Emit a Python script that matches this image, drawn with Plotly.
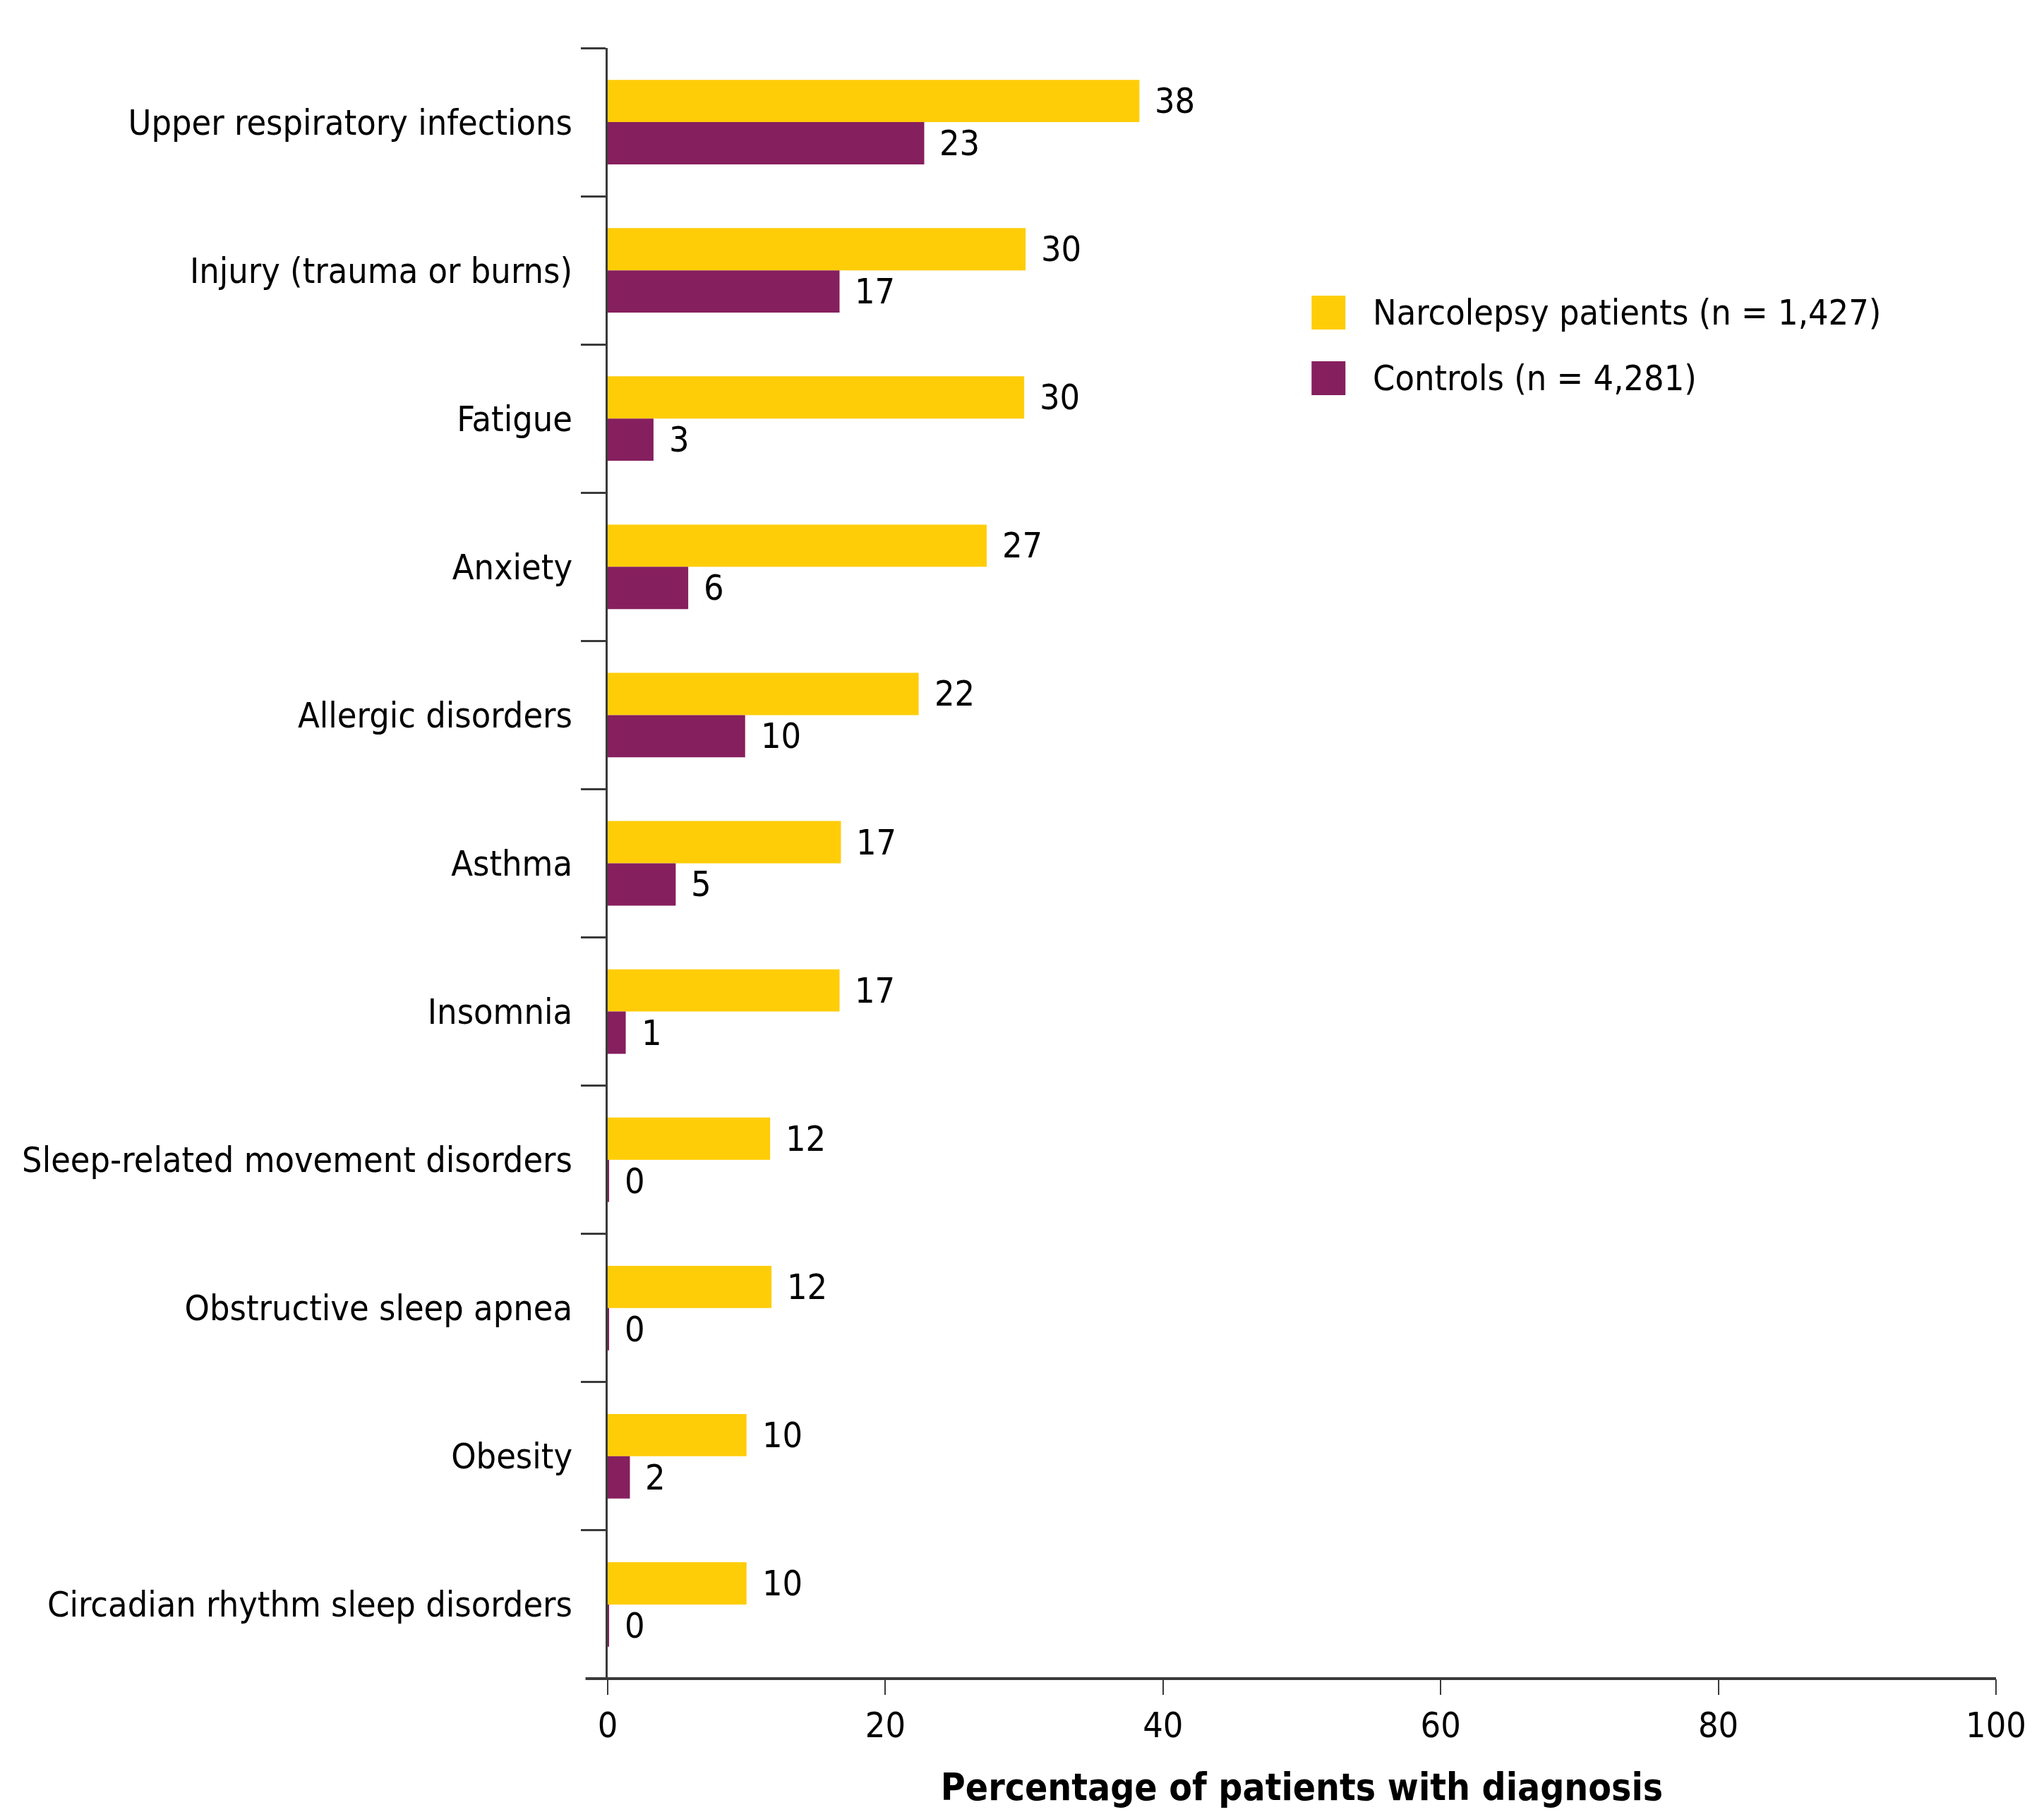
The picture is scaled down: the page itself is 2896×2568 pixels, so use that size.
import plotly.graph_objects as go

categories = [
    "Upper respiratory infections",
    "Injury (trauma or burns)",
    "Fatigue",
    "Anxiety",
    "Allergic disorders",
    "Asthma",
    "Insomnia",
    "Sleep-related movement disorders",
    "Obstructive sleep apnea",
    "Obesity",
    "Circadian rhythm sleep disorders",
]
narcolepsy = [38.3, 30.1, 30.0, 27.3, 22.4, 16.8, 16.7, 11.7, 11.8, 10.0, 10.0]
controls = [22.8, 16.7, 3.3, 5.8, 9.9, 4.9, 1.3, 0.1, 0.1, 1.6, 0.1]
series_names = ["Narcolepsy patients (n = 1,427)", "Controls (n = 4,281)"]
x_ticks = [0, 20, 40, 60, 80, 100]

YELLOW = "rgb(255,205,8)"
PURPLE = "rgb(134,31,94)"
AXIS = "#3a3a3a"
FONT = "DejaVu Sans Condensed, Liberation Sans Narrow, sans-serif"
FS = 50
BARGAP = 0.43

fig = go.Figure()
fig.add_trace(go.Bar(y=categories, x=narcolepsy, orientation="h", name=series_names[0],
                     marker=dict(color=YELLOW, line=dict(width=0)), showlegend=False))
fig.add_trace(go.Bar(y=categories, x=controls, orientation="h", name=series_names[1],
                     marker=dict(color=PURPLE, line=dict(width=0)), showlegend=False))

half = (1 - BARGAP) / 4.0
annotations = []
for i, (a, b) in enumerate(zip(narcolepsy, controls)):
    for val, off in ((a, -half), (b, half)):
        annotations.append(dict(x=val, y=i + off, xref="x", yref="y", text=f"{val:.0f}",
                                showarrow=False, xanchor="left", yanchor="middle", xshift=20,
                                font=dict(family=FONT, size=FS, color="black")))

# custom legend
leg = [(series_names[0], YELLOW, 0.8377), (series_names[1], PURPLE, 0.7975)]
shapes = []
for name, col, yc in leg:
    shapes.append(dict(type="rect", xref="paper", yref="paper", x0=0.507, x1=0.5314,
                       y0=yc - 0.0104, y1=yc + 0.0104, fillcolor=col, line=dict(width=0)))
    annotations.append(dict(x=0.550, y=yc, xref="paper", yref="paper", text=name, showarrow=False,
                            xanchor="left", yanchor="middle",
                            font=dict(family=FONT, size=FS, color="black")))
# x axis baseline extending left of the y axis
shapes.append(dict(type="line", xref="paper", yref="paper", x0=-0.016, x1=1.0, y0=0, y1=0,
                   line=dict(color=AXIS, width=4)))

fig.update_layout(
    width=2896, height=2568,
    margin=dict(l=861, r=68, t=68, b=189, pad=0),
    paper_bgcolor="white", plot_bgcolor="white",
    barmode="group", bargap=BARGAP, bargroupgap=0,
    font=dict(family=FONT, size=FS, color="black"),
    annotations=annotations, shapes=shapes,
    xaxis=dict(range=[0, 100], tickvals=x_ticks, showgrid=False, zeroline=False,
               showline=False, ticks="outside", ticklen=22, tickwidth=2, tickcolor=AXIS,
               tickfont=dict(family=FONT, size=FS), automargin=False,
               title=dict(text="<b>Percentage of patients with diagnosis</b>",
                          font=dict(family=FONT, size=53), standoff=40)),
    yaxis=dict(type="category", categoryorder="array", categoryarray=categories,
               range=[len(categories) - 0.5, -0.5], showgrid=False, zeroline=False,
               showline=True, linecolor=AXIS, linewidth=3, automargin=False,
               ticks="outside", ticklen=35, tickwidth=3, tickcolor=AXIS,
               tickson="boundaries", ticklabelstandoff=37,
               tickfont=dict(family=FONT, size=FS)),
)

fig.write_html("out.html")
